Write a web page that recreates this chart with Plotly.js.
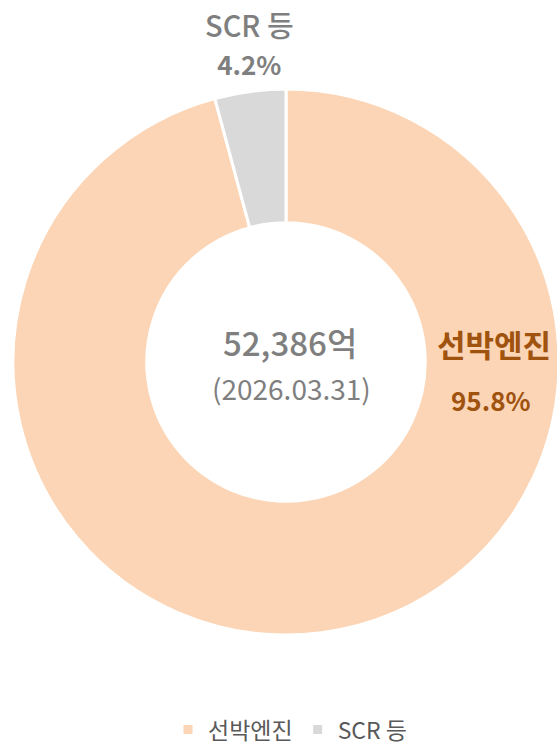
<!DOCTYPE html>
<html><head><meta charset="utf-8">
<script src="https://cdn.plot.ly/plotly-3.0.1.min.js"></script>
<style>html,body{margin:0;padding:0;overflow:hidden;background:#fff}#chart{width:572px;height:746px}</style>
</head><body><div id="chart"></div>
<script>
const categories = ['선박엔진', 'SCR 등'];
const values = [95.8, 4.2];
const colors = ['#FBD5B5', '#D9D9D9'];
const totalText = '52,386억';
const dateText = '(2026.03.31)';
const FONT = '"Noto Sans CJK KR", "Noto Sans", sans-serif';

const data = [{
  type: 'pie',
  labels: categories,
  values: values,
  hole: 0.51,
  sort: false,
  direction: 'clockwise',
  rotation: 0,
  textinfo: 'none',
  hoverinfo: 'label+percent',
  marker: {colors: colors, line: {color: '#FFFFFF', width: 3}},
  domain: {x: [0, 1], y: [0, 1]}
}];

function ann(x, y, text, size, color, weight) {
  return {xref: 'paper', yref: 'paper', x: x, y: y, xanchor: 'center', yanchor: 'middle', borderpad: 0,
          text: text, showarrow: false, font: {size: size, color: color, family: FONT, weight: weight}};
}

const layout = {
  width: 572, height: 746,
  margin: {l: 0, r: 0, t: 89, b: 111},
  paper_bgcolor: '#FFFFFF',
  font: {family: FONT},
  showlegend: true,
  legend: {orientation: 'h', xref: 'container', yref: 'container', x: 0.507, xanchor: 'center',
           y: 0.022, yanchor: 'middle',
           font: {size: 23, color: '#595959', family: FONT}, itemwidth: 30, traceorder: 'normal'},
  annotations: [
    ann(0.507, 0.537, totalText, 33, '#7F7F7F', 500),
    ann(0.510, 0.452, dateText, 28, '#7F7F7F', 400),
    ann(0.437, 1.086, categories[1] + '<br><span style="font-size:26px"><b>' + values[1].toFixed(1) + '%</b></span>', 29, '#7F7F7F', 500),
    ann(0.864, 0.533, categories[0], 31, '#A0520F', 700),
    ann(0.858, 0.432, values[0].toFixed(1) + '%', 26, '#A0520F', 700)
  ]
};

Plotly.newPlot('chart', data, layout, {displayModeBar: false, staticPlot: true});
</script></body></html>
